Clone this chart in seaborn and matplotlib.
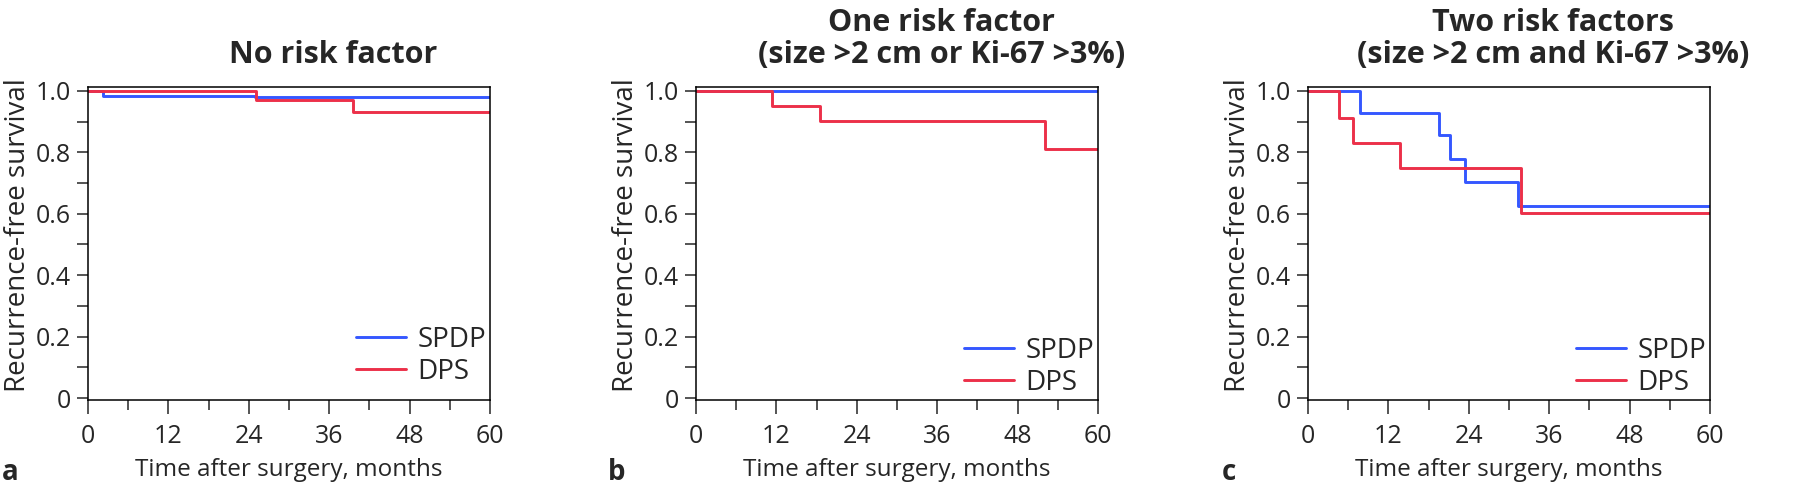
import numpy as np
import pandas as pd
import matplotlib.pyplot as plt
import seaborn as sns
from matplotlib.ticker import MultipleLocator

# Basamak noktaları (ay, sağkalım oranı)
spdp_a_t = [0, 2.2, 25, 55, 60]
spdp_a_s = [1.0, 0.984, 0.981, 0.979, 0.979]
dps_a_t = [0, 25.1, 39.5, 60]
dps_a_s = [1.0, 0.970, 0.933, 0.933]

spdp_b_t = [0, 60]
spdp_b_s = [1.0, 1.0]
dps_b_t = [0, 11.3, 18.5, 52.1, 60]
dps_b_s = [1.0, 0.951, 0.901, 0.811, 0.811]

spdp_c_t = [0, 7.8, 19.6, 21.2, 23.5, 31.4, 60]
spdp_c_s = [1.0, 0.929, 0.856, 0.780, 0.703, 0.626, 0.626]
dps_c_t = [0, 4.7, 6.7, 13.8, 31.8, 60]
dps_c_s = [1.0, 0.911, 0.832, 0.749, 0.602, 0.602]

panel_titles = ["No risk factor",
                "One risk factor\n(size >2 cm or Ki-67 >3%)",
                "Two risk factors\n(size >2 cm and Ki-67 >3%)"]
panel_letters = ["a", "b", "c"]
groups = ["SPDP", "DPS"]
colors = {"SPDP": "#3557ff", "DPS": "#ec3049"}

panels = [
    ((spdp_a_t, spdp_a_s), (dps_a_t, dps_a_s)),
    ((spdp_b_t, spdp_b_s), (dps_b_t, dps_b_s)),
    ((spdp_c_t, spdp_c_s), (dps_c_t, dps_c_s)),
]

sns.set_style("ticks")
plt.rcParams['font.family'] = ['Open Sans', 'DejaVu Sans']

W, H = 1800, 495
fig = plt.figure(figsize=(W / 100, H / 100), dpi=100)

ax_lefts = [88, 696, 1308]
legend_y = [0.045, 0.009, 0.009]
letter_x = [2, 608, 1222]

for i, (spdp, dps) in enumerate(panels):
    ax = fig.add_axes([ax_lefts[i] / W, 95 / H, 402 / W, 313 / H])

    rows = []
    for name, (t, s) in zip(groups, [spdp, dps]):
        for tt, ss in zip(t, s):
            rows.append({'month': tt, 'surv': ss, 'group': name})
    df = pd.DataFrame(rows)

    sns.lineplot(data=df, x='month', y='surv', hue='group', hue_order=groups,
                 palette=colors, drawstyle='steps-post', estimator=None,
                 linewidth=2.1, ax=ax)

    ax.set_xlim(0, 60)
    ax.set_ylim(-0.0065, 1.013)
    ax.xaxis.set_major_locator(MultipleLocator(12))
    ax.xaxis.set_minor_locator(MultipleLocator(6))
    ax.yaxis.set_minor_locator(MultipleLocator(0.1))
    ax.set_yticks(np.arange(0, 1.01, 0.2))
    ax.set_yticklabels(['0', '0.2', '0.4', '0.6', '0.8', '1.0'])

    ax.tick_params(axis='x', which='major', length=10, width=1.1, pad=7, labelsize=18)
    ax.tick_params(axis='x', which='minor', length=7, width=1.1)
    ax.tick_params(axis='y', which='major', length=8, width=1.1, pad=4, labelsize=18)
    ax.tick_params(axis='y', which='minor', length=8, width=1.1)
    for sp in ax.spines.values():
        sp.set_linewidth(1.1)
        sp.set_color('black')

    ax.set_xlabel('Time after surgery, months', fontsize=17.5, labelpad=7)
    ax.set_ylabel('Recurrence-free survival', fontsize=20, labelpad=3)
    ax.yaxis.label.set_y(0.5 + 8 / 313)
    ax.set_title(panel_titles[i], fontsize=22, fontweight='bold', x=0.61, pad=17,
                 linespacing=1.1)

    handles, labels = ax.get_legend_handles_labels()
    ax.legend(handles, labels, loc='lower right', frameon=False, fontsize=20,
              bbox_to_anchor=(1 - 4 / 402, legend_y[i]), borderaxespad=0,
              borderpad=0, handlelength=1.8, handletextpad=0.4, labelspacing=0.15)

    fig.text(letter_x[i] / W, 1 - 472 / H, panel_letters[i], fontsize=20,
             fontweight='bold', va='center', ha='left')

plt.savefig('out.png', dpi=100)
